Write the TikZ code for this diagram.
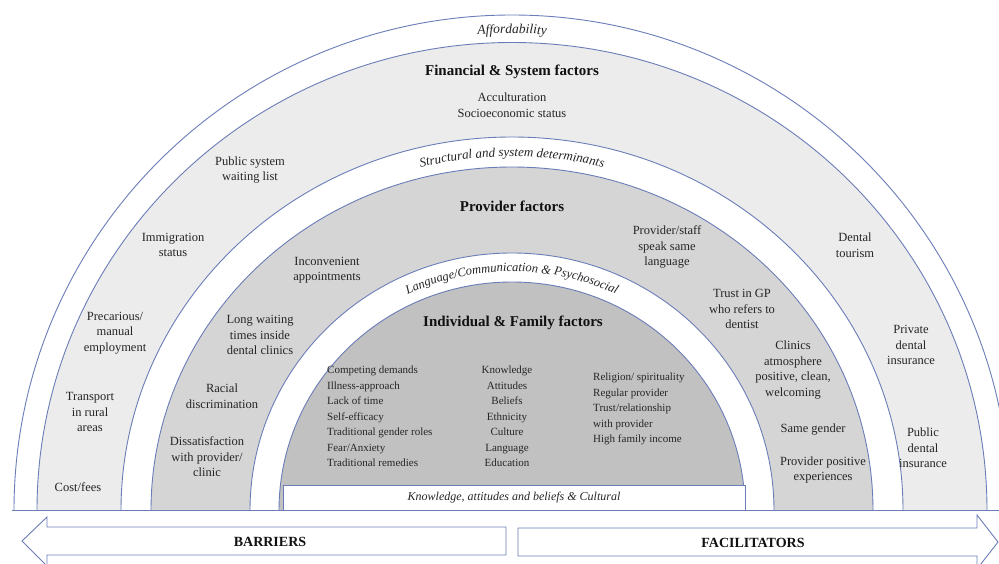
\documentclass[tikz,border=0pt]{standalone}
\usepackage{fontspec}
\setmainfont{Liberation Serif}
\usetikzlibrary{decorations.text}
\definecolor{ln}{HTML}{6B7DB8}
\definecolor{finc}{HTML}{ECECEC}
\definecolor{provc}{HTML}{D5D5D5}
\definecolor{indc}{HTML}{C1C1C1}
\definecolor{txt}{HTML}{262626}
\definecolor{hd}{HTML}{111111}
\tikzset{
  ring/.style={draw=ln, line width=0.9pt},
  item/.style={align=center, inner sep=0pt, text=txt, font=\fontsize{12.5}{15.5}\selectfont},
  initem/.style={align=center, inner sep=0pt, text=txt, font=\fontsize{11}{15.5}\selectfont},
  itemleft/.style={align=left, inner sep=0pt, text=txt, font=\fontsize{11}{15.5}\selectfont},
  head/.style={inner sep=0pt, text=hd, font=\fontsize{15}{18}\selectfont\bfseries},
  arrowshape/.style={draw=ln, line width=0.9pt, fill=white},
  arrowtext/.style={inner sep=0pt, text=hd, font=\fontsize{14}{16}\selectfont\bfseries},
  curvetext/.style={decorate, decoration={text along path, text align=center, text color=txt}}
}
\begin{document}
\begin{tikzpicture}[x=1pt,y=-1pt]
\useasboundingbox (0,0) rectangle (999,564);
\begin{scope}
\clip (0,0) rectangle (999,564);
% rings
\begin{scope}
\clip (0,0) rectangle (999,510.5);
\draw[ring, fill=white] (512,510.5) ellipse [x radius=498, y radius=495.5];
\draw[ring, fill=finc]  (512,510.5) ellipse [x radius=475, y radius=468];
\draw[ring, fill=white] (512,510.5) ellipse [x radius=391, y radius=373.5];
\draw[ring, fill=provc] (512,510.5) ellipse [x radius=361, y radius=343.5];
\draw[ring, fill=white] (512,510.5) ellipse [x radius=262, y radius=257.5];
\draw[ring, fill=indc]  (512,510.5) ellipse [x radius=233, y radius=228.5];
\end{scope}
% bottom box
\node[draw=ln, line width=0.9pt, fill=white, minimum width=462pt, minimum height=25pt, inner sep=0pt,
      font=\fontsize{12}{14}\selectfont\itshape, text=txt] (kab) at (514,497.5)
      {Knowledge, attitudes and beliefs \& Cultural};
% baseline
\coordinate (bl) at (12,510.5);
\coordinate (br) at (999,510.5);
\draw[draw=ln, line width=1.6pt] (bl) -- (br);
% curved labels
\path[curvetext, decoration={text={|\fontsize{13.5}{15}\selectfont\itshape|Affordability}}]
  (512,510.5) ++(240:482 and 477) arc[start angle=240, end angle=300, x radius=482, y radius=477];
\path[curvetext, decoration={text={|\fontsize{13}{15}\selectfont\itshape|Structural and system determinants}}]
  (512,510.5) ++(220:372.5 and 354) arc[start angle=220, end angle=320, x radius=372.5, y radius=354];
\path[curvetext, decoration={text={|\fontsize{12.5}{14}\selectfont\itshape|Language/Communication {\&} Psychosocial}}]
  (512,510.5) ++(200:244 and 239) arc[start angle=200, end angle=340, x radius=244, y radius=239];
% financial & system
\node[head] (finhead) at (512,72) {Financial \& System factors};
\node[item] (acc) at (512,105) {Acculturation\\Socioeconomic status};
\node[item] (pub) at (250,170) {Public system\\waiting list};
\node[item] (imm) at (173,245) {Immigration\\status};
\node[item] (prec) at (115,333) {Precarious/\\manual\\employment};
\node[item] (trans) at (90,412) {Transport\\in rural\\areas};
\node[item] (cost) at (78,487) {Cost/fees};
\node[item] (tour) at (855,245) {Dental\\tourism};
\node[item] (priv) at (911,345) {Private\\dental\\insurance};
\node[item] (pubins) at (923,448) {Public\\dental\\insurance};
% provider
\node[head] (provhead) at (512,206) {Provider factors};
\node[item] (inconv) at (327,270) {Inconvenient\\appointments};
\node[item] (long) at (260,335) {Long waiting\\times inside\\dental clinics};
\node[item] (racial) at (222,396) {Racial\\discrimination};
\node[item] (diss) at (207,457) {Dissatisfaction\\with provider/\\clinic};
\node[item] (staff) at (667,247) {Provider/staff\\speak same\\language};
\node[item] (gp) at (742,309) {Trust in GP\\who refers to\\dentist};
\node[item] (clin) at (793,370) {Clinics\\atmosphere\\positive, clean,\\welcoming};
\node[item] (same) at (813,430) {Same gender};
\node[item] (posexp) at (823,470) {Provider positive\\experiences};
% individual
\node[head] (indhead) at (513,323) {Individual \& Family factors};
\node[itemleft, anchor=west] (colL) at (327,416.5) {Competing demands\\Illness-approach\\Lack of time\\Self-efficacy\\Traditional gender roles\\Fear/Anxiety\\Traditional remedies};
\node[initem] (colM) at (507,416.5) {Knowledge\\Attitudes\\Beliefs\\Ethnicity\\Culture\\Language\\Education};
\node[itemleft, anchor=west] (colR) at (593,409) {Religion/ spirituality\\Regular provider\\Trust/relationship\\with provider\\High family income};
% arrows
\draw[arrowshape] (22,541) -- (47,517) -- (47,527) -- (506,527) -- (506,555) -- (47,555) -- (47,566) -- cycle;
\draw[arrowshape] (998,542) -- (977,515) -- (977,528) -- (518,528) -- (518,556) -- (977,556) -- (977,569) -- cycle;
\node[arrowtext] (barr) at (270,542) {BARRIERS};
\node[arrowtext] (fac) at (753,543) {FACILITATORS};
\end{scope}
\end{tikzpicture}
\end{document}
